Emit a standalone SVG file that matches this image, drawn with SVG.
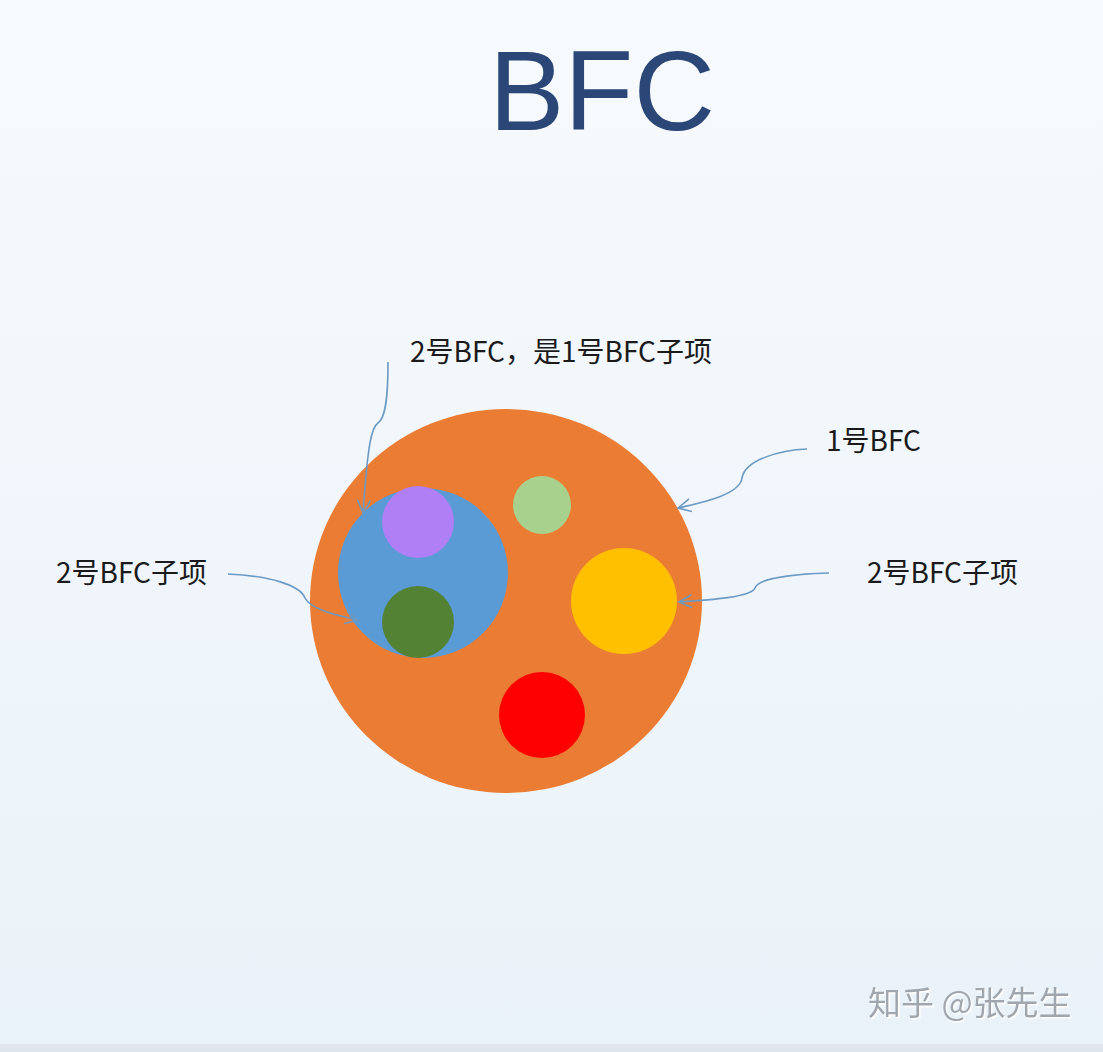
<svg xmlns="http://www.w3.org/2000/svg" width="1103" height="1052" viewBox="0 0 1103 1052">
<defs>
<linearGradient id="bg" x1="0" y1="0" x2="0" y2="1">
<stop offset="0" stop-color="#f7fafd"/>
<stop offset="0.5" stop-color="#f0f6fb"/>
<stop offset="1" stop-color="#eaf2f9"/>
</linearGradient>
<marker id="arr" viewBox="0 0 20 20" refX="18" refY="10" markerWidth="16" markerHeight="16" markerUnits="userSpaceOnUse" orient="auto">
<path d="M2,2 L18,10 L2,18" fill="none" stroke="#6b9ac4" stroke-width="2"/>
</marker>
<filter id="sh" x="-5%" y="-20%" width="110%" height="140%">
<feDropShadow dx="1.5" dy="1.5" stdDeviation="0.3" flood-color="#ffffff" flood-opacity="1"/>
</filter>
</defs>
<style>
.lbl{font-family:"Noto Sans CJK SC","Liberation Sans",sans-serif;font-size:28px;fill:#1a1a1a;}
.con{fill:none;stroke:#6b9ac4;stroke-width:1.6;}
</style>
<rect width="1103" height="1052" fill="url(#bg)"/>
<rect x="0" y="1044" width="1103" height="8" fill="#dfe5ec"/>
<text id="title" x="489" y="130" font-family="'Liberation Sans',Arial,sans-serif" font-size="113" fill="#2b4778">BFC</text>
<g id="bfc1"><ellipse cx="506" cy="601" rx="196" ry="192" fill="#ea7d33"/></g>
<g id="bfc2"><circle cx="423" cy="573" r="85" fill="#5b9bd5"/></g>
<g id="purple"><circle cx="418" cy="522" r="36" fill="#b07ff6"/></g>
<g id="darkgreen"><circle cx="418" cy="622" r="36" fill="#548235"/></g>
<g id="lightgreen"><circle cx="542" cy="505" r="29" fill="#a9d18e"/></g>
<g id="yellow"><circle cx="624" cy="601" r="53" fill="#ffc000"/></g>
<g id="red"><circle cx="542" cy="715" r="43" fill="#ff0000"/></g>
<g id="connectors">
<path class="con" d="M388,362 C388,395 386,418 378,423 C372,427 368,440 363,513" marker-end="url(#arr)"/>
<path class="con" d="M807,449 C780,450 745,460 742,478 C740,495 700,503 678,508" marker-end="url(#arr)"/>
<path class="con" d="M829,573 C795,574 758,578 755,588 C752,597 710,600 679,602" marker-end="url(#arr)"/>
<path class="con" d="M228,574 C270,576 300,585 305,598 C310,608 330,614 358,620" marker-end="url(#arr)"/>
</g>
<g id="labels">
<text class="lbl" x="410" y="362">2号BFC，是1号BFC子项</text>
<text class="lbl" x="826" y="451">1号BFC</text>
<text class="lbl" x="56" y="583">2号BFC子项</text>
<text class="lbl" x="867" y="583">2号BFC子项</text>
</g>
<text id="watermark" x="868" y="1015" font-family="'Noto Sans CJK SC',sans-serif" font-size="33" fill="#a0a6ae" filter="url(#sh)">知乎 @张先生</text>
</svg>
